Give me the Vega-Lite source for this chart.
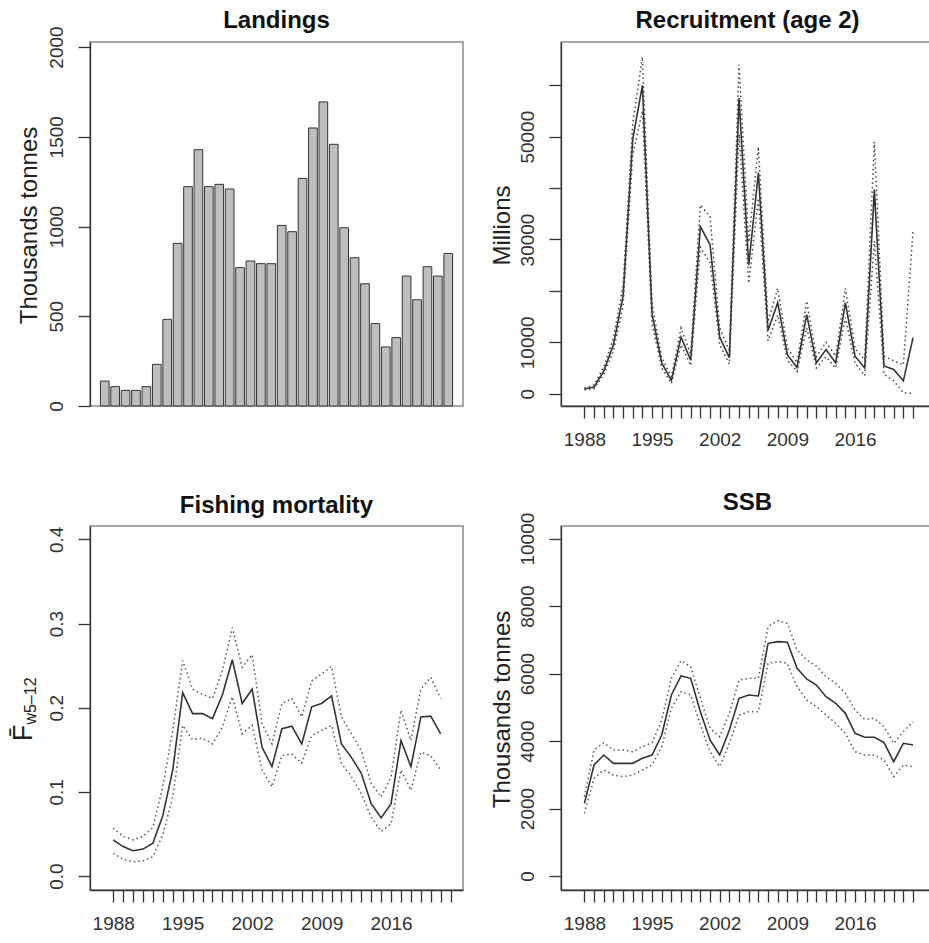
{
  "$schema": "https://vega.github.io/schema/vega-lite/v6.json",
  "background": "white",
  "padding": {"left": 8, "top": 8, "right": 0, "bottom": 4},
  "columns": 2,
  "bounds": "flush",
  "spacing": {"row": 120, "column": 98},
  "config": {
    "font": "Liberation Sans",
    "view": {"stroke": "#8a8a8a", "strokeWidth": 1.5},
    "axis": {
      "domainColor": "#333", "domainWidth": 1.3,
      "tickColor": "#333", "tickWidth": 1.3, "tickSize": 12,
      "labelFontSize": 19, "labelColor": "#333", "labelOverlap": false, "labelFlush": false,
      "titleFontSize": 24, "titleFontWeight": "normal", "titleColor": "#222",
      "grid": false
    },
    "axisY": {
      "labelAngle": -90, "labelAlign": "center", "labelBaseline": "alphabetic", "labelPadding": 15.5,
      "titleAngle": -90, "titleBaseline": "alphabetic", "titleAlign": "center", "titleX": -52, "titleY": 183
    },
    "axisX": {"labelPadding": 12},
    "title": {"fontSize": 24, "fontWeight": "bold", "color": "#111", "frame": "group", "anchor": "middle", "baseline": "alphabetic", "offset": 9}
  },
  "datasets": {
    "landings": [
      {"year": 1988, "landings": 139}, {"year": 1989, "landings": 108}, {"year": 1990, "landings": 87},
      {"year": 1991, "landings": 87}, {"year": 1992, "landings": 108}, {"year": 1993, "landings": 232},
      {"year": 1994, "landings": 483}, {"year": 1995, "landings": 906}, {"year": 1996, "landings": 1222},
      {"year": 1997, "landings": 1428}, {"year": 1998, "landings": 1222}, {"year": 1999, "landings": 1235},
      {"year": 2000, "landings": 1209}, {"year": 2001, "landings": 771}, {"year": 2002, "landings": 808},
      {"year": 2003, "landings": 793}, {"year": 2004, "landings": 793}, {"year": 2005, "landings": 1006},
      {"year": 2006, "landings": 971}, {"year": 2007, "landings": 1268}, {"year": 2008, "landings": 1549},
      {"year": 2009, "landings": 1694}, {"year": 2010, "landings": 1458}, {"year": 2011, "landings": 993},
      {"year": 2012, "landings": 826}, {"year": 2013, "landings": 681}, {"year": 2014, "landings": 459},
      {"year": 2015, "landings": 329}, {"year": 2016, "landings": 381}, {"year": 2017, "landings": 724},
      {"year": 2018, "landings": 592}, {"year": 2019, "landings": 776}, {"year": 2020, "landings": 724},
      {"year": 2021, "landings": 850}
    ],
    "rec": [
      {"year": 1988, "est": 900, "lo": 700, "hi": 1100},
      {"year": 1989, "est": 1300, "lo": 1000, "hi": 1700},
      {"year": 1990, "est": 4400, "lo": 3700, "hi": 5200},
      {"year": 1991, "est": 9500, "lo": 8300, "hi": 10800},
      {"year": 1992, "est": 19000, "lo": 17000, "hi": 21000},
      {"year": 1993, "est": 49500, "lo": 46500, "hi": 52500},
      {"year": 1994, "est": 60000, "lo": 55000, "hi": 65500},
      {"year": 1995, "est": 15500, "lo": 13500, "hi": 17500},
      {"year": 1996, "est": 6000, "lo": 5000, "hi": 7000},
      {"year": 1997, "est": 2600, "lo": 2000, "hi": 3300},
      {"year": 1998, "est": 11000, "lo": 9500, "hi": 12800},
      {"year": 1999, "est": 6500, "lo": 5500, "hi": 7700},
      {"year": 2000, "est": 32500, "lo": 28500, "hi": 36700},
      {"year": 2001, "est": 29000, "lo": 25500, "hi": 34500},
      {"year": 2002, "est": 11000, "lo": 9500, "hi": 12800},
      {"year": 2003, "est": 7000, "lo": 5800, "hi": 8300},
      {"year": 2004, "est": 57500, "lo": 50500, "hi": 64000},
      {"year": 2005, "est": 25000, "lo": 21500, "hi": 29500},
      {"year": 2006, "est": 43000, "lo": 38000, "hi": 48000},
      {"year": 2007, "est": 12300, "lo": 10300, "hi": 14000},
      {"year": 2008, "est": 17700, "lo": 15300, "hi": 20500},
      {"year": 2009, "est": 7600, "lo": 6500, "hi": 9000},
      {"year": 2010, "est": 5100, "lo": 4300, "hi": 6000},
      {"year": 2011, "est": 15400, "lo": 12800, "hi": 18000},
      {"year": 2012, "est": 6000, "lo": 5000, "hi": 7200},
      {"year": 2013, "est": 8600, "lo": 7200, "hi": 10000},
      {"year": 2014, "est": 6000, "lo": 5000, "hi": 7300},
      {"year": 2015, "est": 17700, "lo": 14800, "hi": 20500},
      {"year": 2016, "est": 7300, "lo": 6000, "hi": 8800},
      {"year": 2017, "est": 5000, "lo": 3500, "hi": 6600},
      {"year": 2018, "est": 39700, "lo": 29700, "hi": 49000},
      {"year": 2019, "est": 5400, "lo": 3800, "hi": 7300},
      {"year": 2020, "est": 4700, "lo": 2500, "hi": 6400},
      {"year": 2021, "est": 2500, "lo": 200, "hi": 5600},
      {"year": 2022, "est": 10900, "lo": 0, "hi": 31600}
    ],
    "fbar": [
      {"year": 1988, "est": 0.043, "lo": 0.027, "hi": 0.057},
      {"year": 1989, "est": 0.035, "lo": 0.020, "hi": 0.047},
      {"year": 1990, "est": 0.030, "lo": 0.017, "hi": 0.043},
      {"year": 1991, "est": 0.032, "lo": 0.018, "hi": 0.047},
      {"year": 1992, "est": 0.039, "lo": 0.023, "hi": 0.058},
      {"year": 1993, "est": 0.072, "lo": 0.049, "hi": 0.106},
      {"year": 1994, "est": 0.126, "lo": 0.094, "hi": 0.173},
      {"year": 1995, "est": 0.218, "lo": 0.179, "hi": 0.256},
      {"year": 1996, "est": 0.193, "lo": 0.162, "hi": 0.222},
      {"year": 1997, "est": 0.193, "lo": 0.164, "hi": 0.216},
      {"year": 1998, "est": 0.187, "lo": 0.157, "hi": 0.211},
      {"year": 1999, "est": 0.215, "lo": 0.177, "hi": 0.244},
      {"year": 2000, "est": 0.257, "lo": 0.213, "hi": 0.295},
      {"year": 2001, "est": 0.205, "lo": 0.169, "hi": 0.248},
      {"year": 2002, "est": 0.222, "lo": 0.179, "hi": 0.263},
      {"year": 2003, "est": 0.153, "lo": 0.126, "hi": 0.181},
      {"year": 2004, "est": 0.130, "lo": 0.106, "hi": 0.157},
      {"year": 2005, "est": 0.175, "lo": 0.143, "hi": 0.205},
      {"year": 2006, "est": 0.178, "lo": 0.145, "hi": 0.211},
      {"year": 2007, "est": 0.157, "lo": 0.134, "hi": 0.189},
      {"year": 2008, "est": 0.201, "lo": 0.167, "hi": 0.232},
      {"year": 2009, "est": 0.205, "lo": 0.173, "hi": 0.240},
      {"year": 2010, "est": 0.214, "lo": 0.179, "hi": 0.249},
      {"year": 2011, "est": 0.157, "lo": 0.134, "hi": 0.189},
      {"year": 2012, "est": 0.141, "lo": 0.118, "hi": 0.169},
      {"year": 2013, "est": 0.122, "lo": 0.098, "hi": 0.149},
      {"year": 2014, "est": 0.086, "lo": 0.070, "hi": 0.110},
      {"year": 2015, "est": 0.069, "lo": 0.053, "hi": 0.094},
      {"year": 2016, "est": 0.086, "lo": 0.062, "hi": 0.118},
      {"year": 2017, "est": 0.161, "lo": 0.126, "hi": 0.197},
      {"year": 2018, "est": 0.130, "lo": 0.102, "hi": 0.161},
      {"year": 2019, "est": 0.189, "lo": 0.147, "hi": 0.222},
      {"year": 2020, "est": 0.190, "lo": 0.143, "hi": 0.236},
      {"year": 2021, "est": 0.169, "lo": 0.126, "hi": 0.211}
    ],
    "ssb": [
      {"year": 1988, "est": 2154, "lo": 1858, "hi": 2352},
      {"year": 1989, "est": 3290, "lo": 2895, "hi": 3735},
      {"year": 1990, "est": 3587, "lo": 3142, "hi": 3953},
      {"year": 1991, "est": 3340, "lo": 2994, "hi": 3735},
      {"year": 1992, "est": 3340, "lo": 2945, "hi": 3735},
      {"year": 1993, "est": 3340, "lo": 2994, "hi": 3686},
      {"year": 1994, "est": 3488, "lo": 3142, "hi": 3834},
      {"year": 1995, "est": 3587, "lo": 3290, "hi": 3953},
      {"year": 1996, "est": 4180, "lo": 3834, "hi": 4625},
      {"year": 1997, "est": 5366, "lo": 4970, "hi": 5860},
      {"year": 1998, "est": 5929, "lo": 5464, "hi": 6383},
      {"year": 1999, "est": 5860, "lo": 5366, "hi": 6206},
      {"year": 2000, "est": 4872, "lo": 4476, "hi": 5267},
      {"year": 2001, "est": 4032, "lo": 3686, "hi": 4378},
      {"year": 2002, "est": 3587, "lo": 3241, "hi": 4130},
      {"year": 2003, "est": 4328, "lo": 3933, "hi": 4822},
      {"year": 2004, "est": 5267, "lo": 4773, "hi": 5810},
      {"year": 2005, "est": 5366, "lo": 4872, "hi": 5860},
      {"year": 2006, "est": 5336, "lo": 4872, "hi": 5860},
      {"year": 2007, "est": 6897, "lo": 6304, "hi": 7391},
      {"year": 2008, "est": 6947, "lo": 6354, "hi": 7569},
      {"year": 2009, "est": 6927, "lo": 6304, "hi": 7490},
      {"year": 2010, "est": 6156, "lo": 5613, "hi": 6700},
      {"year": 2011, "est": 5840, "lo": 5217, "hi": 6403},
      {"year": 2012, "est": 5662, "lo": 5020, "hi": 6225},
      {"year": 2013, "est": 5316, "lo": 4773, "hi": 5909},
      {"year": 2014, "est": 5119, "lo": 4526, "hi": 5711},
      {"year": 2015, "est": 4822, "lo": 4229, "hi": 5415},
      {"year": 2016, "est": 4229, "lo": 3686, "hi": 4921},
      {"year": 2017, "est": 4111, "lo": 3587, "hi": 4644},
      {"year": 2018, "est": 4111, "lo": 3587, "hi": 4674},
      {"year": 2019, "est": 3953, "lo": 3439, "hi": 4427},
      {"year": 2020, "est": 3389, "lo": 2945, "hi": 3933},
      {"year": 2021, "est": 3933, "lo": 3290, "hi": 4279},
      {"year": 2022, "est": 3883, "lo": 3241, "hi": 4575}
    ]
  },
  "concat": [
    {
      "title": {"text": "Landings", "offset": -7},
      "width": 373, "height": 364,
      "data": {"name": "landings"},
      "mark": {"type": "bar", "fill": "#bebebe", "stroke": "#333", "strokeWidth": 1},
      "encoding": {
        "x": {"field": "year", "type": "ordinal", "scale": {"paddingInner": 0.1667, "paddingOuter": 1.14}, "axis": null},
        "y": {"field": "landings", "type": "quantitative", "title": "Thousands tonnes",
              "scale": {"domain": [0, 2028], "nice": false},
              "axis": {"values": [0, 500, 1000, 1500, 2000], "format": "d", "titleX": -53.4}}
      }
    },
    {
      "title": {"text": "Recruitment (age 2)", "offset": 9},
      "width": 373, "height": 364,
      "data": {"name": "rec"},
      "encoding": {
        "x": {"field": "year", "type": "quantitative", "title": null,
              "scale": {"domain": [1985.58, 2024.17], "nice": false, "zero": false},
              "axis": {"values": [1988,1989,1990,1991,1992,1993,1994,1995,1996,1997,1998,1999,2000,2001,2002,2003,2004,2005,2006,2007,2008,2009,2010,2011,2012,2013,2014,2015,2016,2017,2018,2019,2020,2021,2022],
                       "format": "d", "labelExpr": "(datum.value - 1988) % 7 == 0 ? datum.label : ''"}}
      },
      "layer": [
        {"mark": {"type": "line", "color": "#333", "strokeWidth": 1.6},
         "encoding": {"y": {"field": "est", "type": "quantitative", "title": "Millions",
                            "scale": {"domain": [-2393, 68424], "nice": false, "zero": false},
                            "axis": {"values": [0, 10000, 20000, 30000, 40000, 50000, 60000], "format": "d",
                                     "labelExpr": "datum.value == 20000 || datum.value == 40000 || datum.value == 60000 ? '' : datum.label"}}}},
        {"mark": {"type": "line", "color": "#444", "strokeWidth": 1.5, "strokeDash": [1.5, 3]},
         "encoding": {"y": {"field": "lo", "type": "quantitative", "title": "Millions"}}},
        {"mark": {"type": "line", "color": "#444", "strokeWidth": 1.5, "strokeDash": [1.5, 3]},
         "encoding": {"y": {"field": "hi", "type": "quantitative", "title": "Millions"}}}
      ]
    },
    {
      "title": {"text": "Fishing mortality", "offset": 8},
      "width": 373, "height": 364,
      "data": {"name": "fbar"},
      "resolve": {"axis": {"x": "independent"}},
      "layer": [
        {"mark": {"type": "line", "color": "#333", "strokeWidth": 1.6},
         "encoding": {
           "x": {"field": "year", "type": "quantitative", "title": null,
                 "scale": {"domain": [1985.66, 2023.25], "nice": false, "zero": false},
                 "axis": {"values": [1988,1989,1990,1991,1992,1993,1994,1995,1996,1997,1998,1999,2000,2001,2002,2003,2004,2005,2006,2007,2008,2009,2010,2011,2012,2013,2014,2015,2016,2017,2018,2019,2020,2021,2022],
                          "format": "d", "labelExpr": "(datum.value - 1988) % 7 == 0 ? datum.label : ''"}},
           "y": {"field": "est", "type": "quantitative", "title": "F\u0304",
                 "scale": {"domain": [-0.0166, 0.4159], "nice": false, "zero": false},
                 "axis": {"values": [0, 0.1, 0.2, 0.3, 0.4], "format": ".1f", "titleFontSize": 27, "titleX": -58.7, "titleY": 206.5}}}},
        {"mark": {"type": "line", "color": "#555", "strokeWidth": 1.5, "strokeDash": [1.5, 3]},
         "encoding": {
           "x": {"field": "year", "type": "quantitative", "title": "w5\u201312",
                 "axis": {"orient": "top", "domain": false, "ticks": false, "labels": false,
                          "titleFontSize": 16, "titleAngle": -90, "titleAlign": "center", "titleBaseline": "alphabetic",
                          "titleX": -54.7, "titleY": 174.5, "titleColor": "#222"}},
           "y": {"field": "lo", "type": "quantitative", "title": "F\u0304"}}},
        {"mark": {"type": "line", "color": "#555", "strokeWidth": 1.5, "strokeDash": [1.5, 3]},
         "encoding": {
           "x": {"field": "year", "type": "quantitative", "axis": null},
           "y": {"field": "hi", "type": "quantitative", "title": "F\u0304"}}}
      ]
    },
    {
      "title": {"text": "SSB", "offset": -3},
      "width": 373, "height": 364,
      "data": {"name": "ssb"},
      "encoding": {
        "x": {"field": "year", "type": "quantitative", "title": null,
              "scale": {"domain": [1985.58, 2024.17], "nice": false, "zero": false},
              "axis": {"values": [1988,1989,1990,1991,1992,1993,1994,1995,1996,1997,1998,1999,2000,2001,2002,2003,2004,2005,2006,2007,2008,2009,2010,2011,2012,2013,2014,2015,2016,2017,2018,2019,2020,2021,2022],
                       "format": "d", "labelExpr": "(datum.value - 1988) % 7 == 0 ? datum.label : ''"}}
      },
      "layer": [
        {"mark": {"type": "line", "color": "#333", "strokeWidth": 1.6},
         "encoding": {"y": {"field": "est", "type": "quantitative", "title": "Thousands tonnes",
                            "scale": {"domain": [-415, 10375], "nice": false, "zero": false},
                            "axis": {"values": [0, 2000, 4000, 6000, 8000, 10000], "format": "d"}}}},
        {"mark": {"type": "line", "color": "#555", "strokeWidth": 1.5, "strokeDash": [1.5, 3]},
         "encoding": {"y": {"field": "lo", "type": "quantitative", "title": "Thousands tonnes"}}},
        {"mark": {"type": "line", "color": "#555", "strokeWidth": 1.5, "strokeDash": [1.5, 3]},
         "encoding": {"y": {"field": "hi", "type": "quantitative", "title": "Thousands tonnes"}}}
      ]
    }
  ]
}
